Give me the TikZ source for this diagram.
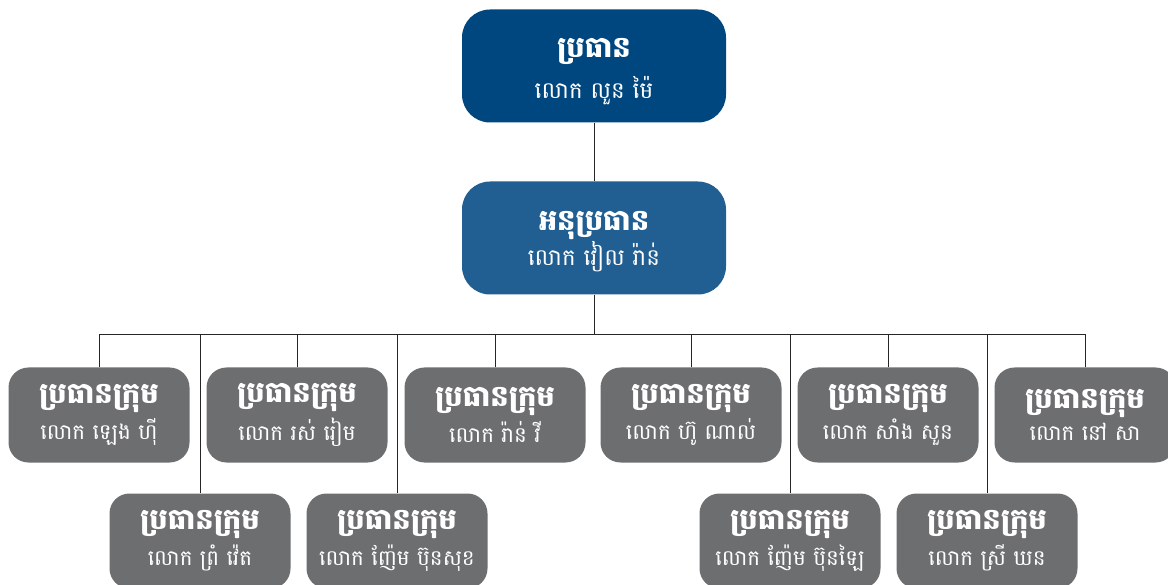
\documentclass[tikz,border=0pt]{standalone}
\usepackage{fontspec}
\newfontfamily\khmerfont[Script=Khmer]{Battambang}
\usetikzlibrary{positioning}
\definecolor{chairblue}{RGB}{0,70,127}
\definecolor{viceblue}{RGB}{33,94,145}
\definecolor{teamgray}{RGB}{109,110,112}
\newcommand{\boxtext}[2]{{\bfseries\fontsize{29}{30}\selectfont #1}\\[5pt]{\fontsize{21.5}{24}\selectfont #2}}
% #1 strut height, #2 gap between the lines
\newcommand{\bigboxtext}[4]{\rule{0pt}{#1}{\bfseries\fontsize{29}{32}\selectfont #3}\\[#2]{\fontsize{23}{26}\selectfont #4}}
\tikzset{
	chairbox/.style={fill=chairblue, text=white, rounded corners=28pt, minimum width=264pt, minimum height=113pt, align=center},
	vicebox/.style={chairbox, fill=viceblue},
	teambox/.style={fill=teamgray, text=white, rounded corners=20pt, minimum width=181pt, minimum height=95pt, align=center},
	link/.style={line width=0.8pt, color=black!85}
}

\begin{document}
\begin{tikzpicture}[x=1pt, y=-1pt, font=\khmerfont]
		%%%%% START %%%%%
		\useasboundingbox (0, 0) rectangle (1168, 585);
		
		\node[chairbox] (chair) at (594, 66) {\bigboxtext{30pt}{11pt}{ប្រធាន}{លោក លួន ម៉ៃ}};
		\node[vicebox] (vice) at (594, 238) {\bigboxtext{26pt}{1pt}{អនុប្រធាន}{លោក វៀល រ៉ាន់}};
		\coordinate (bus) at (594, 334);
		
		% upper row
		\node[teambox] (teamA) at (99, 415) {\boxtext{ប្រធានក្រុម}{លោក ឡេង ហ៊ី}};
		\node[teambox] (teamC) at (297, 415) {\boxtext{ប្រធានក្រុម}{លោក រស់ រៀម}};
		\node[teambox] (teamE) at (495, 415) {\boxtext{ប្រធានក្រុម}{លោក រ៉ាន់ វី}};
		\node[teambox] (teamF) at (691, 415) {\boxtext{ប្រធានក្រុម}{លោក ហ៊ូ ណាល់}};
		\node[teambox] (teamH) at (888, 415) {\boxtext{ប្រធានក្រុម}{លោក សាំង សួន}};
		\node[teambox] (teamJ) at (1085, 415) {\boxtext{ប្រធានក្រុម}{លោក នៅ សា}};
		
		% lower row
		\node[teambox] (teamB) at (200, 541) {\boxtext{ប្រធានក្រុម}{លោក ព្រំ វ៉េត}};
		\node[teambox] (teamD) at (397, 541) {\boxtext{ប្រធានក្រុម}{លោក ញ៉ែម ប៊ុនសុខ}};
		\node[teambox] (teamG) at (790, 541) {\boxtext{ប្រធានក្រុម}{លោក ញ៉ែម ប៊ុនឡៃ}};
		\node[teambox] (teamI) at (987, 541) {\boxtext{ប្រធានក្រុម}{លោក ស្រី ឃន}};
		
		\draw[link] (chair) -- (vice);
		\draw[link] (vice) -- (bus);
		\draw[link] (teamA.north) |- (bus);
		\draw[link] (teamB.north) |- (bus);
		\draw[link] (teamC.north) |- (bus);
		\draw[link] (teamD.north) |- (bus);
		\draw[link] (teamE.north) |- (bus);
		\draw[link] (teamF.north) |- (bus);
		\draw[link] (teamG.north) |- (bus);
		\draw[link] (teamH.north) |- (bus);
		\draw[link] (teamI.north) |- (bus);
		\draw[link] (teamJ.north) |- (bus);
		
		%%%%% END %%%%%
	\end{tikzpicture}
\end{document}
